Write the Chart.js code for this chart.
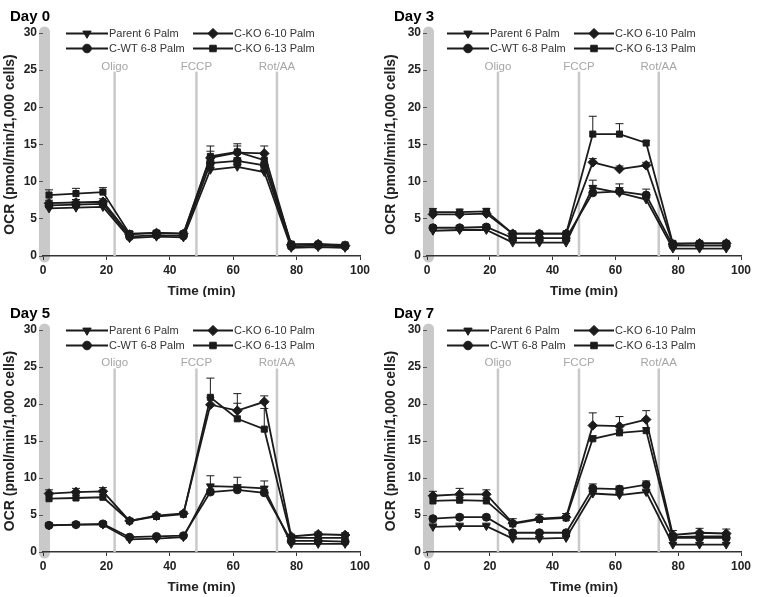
<!DOCTYPE html>
<html>
<head>
<meta charset="utf-8">
<script src="https://cdn.jsdelivr.net/npm/chart.js@4.4.1/dist/chart.umd.min.js"></script>
<style>
  body { margin: 0; background: #fff; }
  #grid { display: grid; grid-template-columns: 381px 381px; width: 762px; }
  canvas { display: block; }
</style>
</head>
<body>
<div id="grid">
  <canvas id="c0" width="381" height="297"></canvas>
  <canvas id="c1" width="381" height="297"></canvas>
  <canvas id="c2" width="381" height="300"></canvas>
  <canvas id="c3" width="381" height="300"></canvas>
</div>
<script>
// measurement times (min)
const time = [1.9, 10.4, 18.9, 27.3, 35.8, 44.3, 52.8, 61.3, 69.8, 78.3, 86.8, 95.3];

const seriesNames = ["Parent 6 Palm", "C-WT 6-8 Palm", "C-KO 6-10 Palm", "C-KO 6-13 Palm"];
const dayTitles = ["Day 0", "Day 3", "Day 5", "Day 7"];

const injectTimes = [22.6, 48.4, 73.8];
const injectLabels = ["Oligo", "FCCP", "Rot/AA"];

// Day 0
const d0Parent = [6.4, 6.5, 6.6, 2.4, 2.6, 2.5, 11.6, 12.0, 11.3, 1.1, 1.2, 1.1];
const d0ParentErr = [0.3, 0.3, 0.3, 0.2, 0.2, 0.2, 0.4, 0.4, 0.4, 0.2, 0.2, 0.2];
const d0WT = [6.8, 6.9, 7.0, 2.6, 2.8, 2.7, 12.5, 12.8, 12.2, 1.3, 1.4, 1.3];
const d0WTErr = [0.3, 0.3, 0.3, 0.2, 0.2, 0.2, 0.4, 0.4, 0.4, 0.2, 0.2, 0.2];
const d0KO10 = [7.1, 7.2, 7.3, 2.9, 3.1, 3.0, 13.2, 13.9, 13.8, 1.5, 1.6, 1.4];
const d0KO10Err = [0.4, 0.4, 0.4, 0.2, 0.2, 0.2, 0.9, 0.9, 1.0, 0.2, 0.2, 0.2];
const d0KO13 = [8.2, 8.4, 8.6, 3.0, 3.1, 3.0, 13.4, 14.0, 12.9, 1.6, 1.6, 1.5];
const d0KO13Err = [0.7, 0.7, 0.6, 0.3, 0.3, 0.3, 1.4, 1.1, 0.9, 0.2, 0.2, 0.2];

// Day 3
const d3Parent = [3.4, 3.5, 3.5, 1.8, 1.8, 1.8, 9.2, 8.5, 7.6, 1.0, 1.0, 1.0];
const d3ParentErr = [0.3, 0.3, 0.3, 0.2, 0.2, 0.2, 1.0, 1.2, 0.5, 0.2, 0.2, 0.2];
const d3WT = [3.8, 3.8, 3.9, 2.4, 2.4, 2.4, 8.5, 8.7, 8.2, 1.4, 1.4, 1.4];
const d3WTErr = [0.3, 0.3, 0.3, 0.2, 0.2, 0.2, 0.6, 0.5, 0.8, 0.2, 0.2, 0.2];
const d3KO10 = [5.6, 5.6, 5.7, 3.0, 3.0, 3.0, 12.6, 11.7, 12.2, 1.6, 1.7, 1.7];
const d3KO10Err = [0.4, 0.3, 0.3, 0.2, 0.2, 0.2, 0.5, 0.4, 0.4, 0.2, 0.2, 0.2];
const d3KO13 = [5.9, 5.9, 6.0, 3.0, 3.0, 3.0, 16.4, 16.4, 15.2, 1.7, 1.7, 1.7];
const d3KO13Err = [0.5, 0.4, 0.4, 0.2, 0.2, 0.2, 2.4, 1.4, 0.3, 0.2, 0.2, 0.2];

// Day 5
const d5Parent = [3.6, 3.7, 3.7, 1.7, 1.8, 2.0, 8.9, 8.8, 8.6, 1.1, 1.1, 1.1];
const d5ParentErr = [0.3, 0.3, 0.3, 0.2, 0.2, 0.2, 1.4, 1.3, 1.0, 0.2, 0.2, 0.2];
const d5WT = [3.6, 3.7, 3.8, 2.0, 2.1, 2.2, 8.1, 8.4, 8.0, 1.5, 1.5, 1.4];
const d5WTErr = [0.3, 0.3, 0.3, 0.2, 0.2, 0.2, 0.4, 0.4, 0.4, 0.2, 0.2, 0.2];
const d5KO10 = [7.9, 8.1, 8.2, 4.2, 4.9, 5.2, 19.9, 19.1, 20.3, 2.1, 2.4, 2.3];
const d5KO10Err = [0.5, 0.5, 0.5, 0.3, 0.3, 0.3, 1.0, 2.3, 0.8, 0.3, 0.3, 0.3];
const d5KO13 = [7.2, 7.3, 7.4, 4.2, 4.8, 5.1, 20.9, 18.0, 16.6, 1.9, 1.9, 1.9];
const d5KO13Err = [0.5, 0.4, 0.4, 0.3, 0.3, 0.3, 2.6, 2.1, 2.8, 0.3, 0.3, 0.3];

// Day 7
const d7Parent = [3.4, 3.5, 3.5, 1.8, 1.8, 1.9, 7.9, 7.7, 8.1, 1.0, 1.0, 1.0];
const d7ParentErr = [0.5, 0.4, 0.4, 0.2, 0.2, 0.2, 0.4, 0.4, 0.4, 0.2, 0.2, 0.2];
const d7WT = [4.5, 4.7, 4.7, 2.6, 2.6, 2.6, 8.6, 8.5, 9.1, 1.9, 1.9, 1.9];
const d7WTErr = [0.3, 0.3, 0.3, 0.2, 0.2, 0.2, 0.6, 0.4, 0.5, 0.3, 0.3, 0.3];
const d7KO10 = [7.6, 7.8, 7.8, 3.9, 4.5, 4.7, 17.1, 17.0, 17.9, 2.3, 2.6, 2.5];
const d7KO10Err = [0.6, 0.8, 0.6, 0.6, 0.6, 0.5, 1.7, 1.3, 1.2, 0.6, 0.6, 0.6];
const d7KO13 = [6.9, 7.0, 6.9, 3.8, 4.4, 4.6, 15.3, 16.1, 16.4, 2.0, 2.1, 2.1];
const d7KO13Err = [0.4, 0.4, 0.4, 0.3, 0.3, 0.3, 0.4, 0.4, 0.4, 0.3, 0.3, 0.3];

const dayValues = [
    [d0Parent, d0WT, d0KO10, d0KO13],
    [d3Parent, d3WT, d3KO10, d3KO13],
    [d5Parent, d5WT, d5KO10, d5KO13],
    [d7Parent, d7WT, d7KO10, d7KO13]
];
const dayErrors = [
    [d0ParentErr, d0WTErr, d0KO10Err, d0KO13Err],
    [d3ParentErr, d3WTErr, d3KO10Err, d3KO13Err],
    [d5ParentErr, d5WTErr, d5KO10Err, d5KO13Err],
    [d7ParentErr, d7WTErr, d7KO10Err, d7KO13Err]
];

const ink = "#1b1b1b";
const gray = "#c9c9c9";
const markerStyles = [
    { style: "triangle", rot: 180, r: 4.5 },
    { style: "circle", rot: 0, r: 4 },
    { style: "rectRot", rot: 0, r: 4.8 },
    { style: "rect", rot: 0, r: 4.3 }
];

Chart.defaults.font.family = '"Liberation Sans", Arial, sans-serif';
Chart.defaults.color = "#222";

// gray baseline bar over the y axis
const yBar = {
    id: "yBar",
    beforeDraw(chart) {
        const { ctx, scales: { x, y } } = chart;
        const px = x.getPixelForValue(0) + 1.5;
        ctx.save();
        ctx.strokeStyle = gray;
        ctx.lineWidth = 11;
        ctx.lineCap = "round";
        ctx.beginPath();
        ctx.moveTo(px, y.getPixelForValue(30) - 1);
        ctx.lineTo(px, y.getPixelForValue(0) + 1);
        ctx.stroke();
        ctx.restore();
    }
};

// injection lines, error bars
const extras = {
    id: "extras",
    beforeDatasetsDraw(chart) {
        const { ctx, scales: { x, y } } = chart;
        ctx.save();
        injectTimes.forEach((t, i) => {
            const px = x.getPixelForValue(t);
            ctx.strokeStyle = gray;
            ctx.lineWidth = 2.5;
            ctx.beginPath();
            ctx.moveTo(px, y.getPixelForValue(24.8));
            ctx.lineTo(px, y.getPixelForValue(0));
            ctx.stroke();
            ctx.fillStyle = "#a6a6a6";
            ctx.font = '11.5px "Liberation Sans", Arial, sans-serif';
            ctx.textAlign = "center";
            ctx.textBaseline = "middle";
            ctx.fillText(injectLabels[i], px, y.getPixelForValue(25.5));
        });
        const errs = chart.options.plugins.extras.errors;
        ctx.strokeStyle = ink;
        ctx.lineWidth = 1;
        chart.data.datasets.forEach((ds, i) => {
            const meta = chart.getDatasetMeta(i);
            meta.data.forEach((pt, j) => {
                const top = y.getPixelForValue(ds.data[j].y + errs[i][j]);
                ctx.beginPath();
                ctx.moveTo(pt.x, pt.y);
                ctx.lineTo(pt.x, top);
                ctx.moveTo(pt.x - 4, top);
                ctx.lineTo(pt.x + 4, top);
                ctx.stroke();
            });
        });
        ctx.restore();
    },
    afterDraw(chart) {
        // day title and in-plot legend
        const { ctx } = chart;
        const o = chart.options.plugins.extras;
        ctx.save();
        ctx.fillStyle = "#000";
        ctx.font = 'bold 15px "Liberation Sans", Arial, sans-serif';
        ctx.textAlign = "left";
        ctx.textBaseline = "middle";
        ctx.fillText(o.title, o.titleX, 17);

        const order = [0, 2, 1, 3];
        const cols = [[66, 108], [193, 233]];
        const rows = [33.5, 48.5];
        order.forEach((dsIndex, k) => {
            const ds = chart.data.datasets[dsIndex];
            const c = cols[k % 2];
            const ry = rows[Math.floor(k / 2)];
            ctx.strokeStyle = ink;
            ctx.lineWidth = 2;
            ctx.beginPath();
            ctx.moveTo(c[0], ry);
            ctx.lineTo(c[1], ry);
            ctx.stroke();
            ctx.fillStyle = ink;
            ctx.lineWidth = 1;
            Chart.helpers.drawPoint(ctx, {
                pointStyle: ds.pointStyle,
                rotation: ds.pointRotation,
                radius: ds.pointRadius + 0.3,
                borderWidth: 1
            }, (c[0] + c[1]) / 2, ry);
            ctx.fillStyle = "#333";
            ctx.font = '11px "Liberation Sans", Arial, sans-serif';
            ctx.textBaseline = "middle";
            ctx.fillText(ds.label, c[1] + 1, ry);
        });
        ctx.restore();
    }
};

function makePanel(idx) {
    const leftW = idx % 2 === 0 ? 43 : 46;
    const padBottom = idx < 2 ? 0 : 4;
    const datasets = seriesNames.map((name, s) => ({
        label: name,
        data: time.map((t, j) => ({ x: t, y: dayValues[idx][s][j] })),
        borderColor: ink,
        backgroundColor: ink,
        borderWidth: 1.8,
        pointStyle: markerStyles[s].style,
        pointRotation: markerStyles[s].rot,
        pointRadius: markerStyles[s].r,
        pointBorderWidth: 1,
        tension: 0
    }));

    new Chart(document.getElementById("c" + idx), {
        type: "line",
        data: { datasets },
        options: {
            responsive: false,
            animation: false,
            layout: { padding: { left: 0, top: 33, right: 21, bottom: padBottom } },
            plugins: {
                legend: { display: false },
                tooltip: { enabled: false },
                extras: {
                    title: dayTitles[idx],
                    titleX: idx % 2 === 0 ? 10 : 13,
                    errors: dayErrors[idx]
                }
            },
            scales: {
                x: {
                    type: "linear",
                    min: 0,
                    max: 100,
                    afterFit: s => { s.height = 41; },
                    ticks: { stepSize: 20, padding: 3, color: "#222", font: { size: 12, weight: "bold" } },
                    grid: { drawOnChartArea: false, tickLength: 4, color: "#333" },
                    border: { display: true, color: "#333", width: 1.5 },
                    title: {
                        display: true,
                        text: "Time (min)",
                        color: "#222",
                        font: { size: 13.5, weight: "bold" },
                        padding: { top: 0, bottom: -2 }
                    }
                },
                y: {
                    min: 0,
                    max: 30,
                    afterFit: s => { s.width = leftW; },
                    ticks: { stepSize: 5, padding: 2, color: "#222", font: { size: 12, weight: "bold" } },
                    grid: { drawOnChartArea: false, tickLength: 4, color: "#555" },
                    border: { display: false },
                    title: {
                        display: true,
                        text: "OCR (pmol/min/1,000 cells)",
                        color: "#222",
                        font: { size: 14, weight: "bold" },
                        padding: { top: 2, bottom: 0 }
                    }
                }
            }
        },
        plugins: [yBar, extras]
    });
}

[0, 1, 2, 3].forEach(makePanel);
</script>
</body>
</html>
